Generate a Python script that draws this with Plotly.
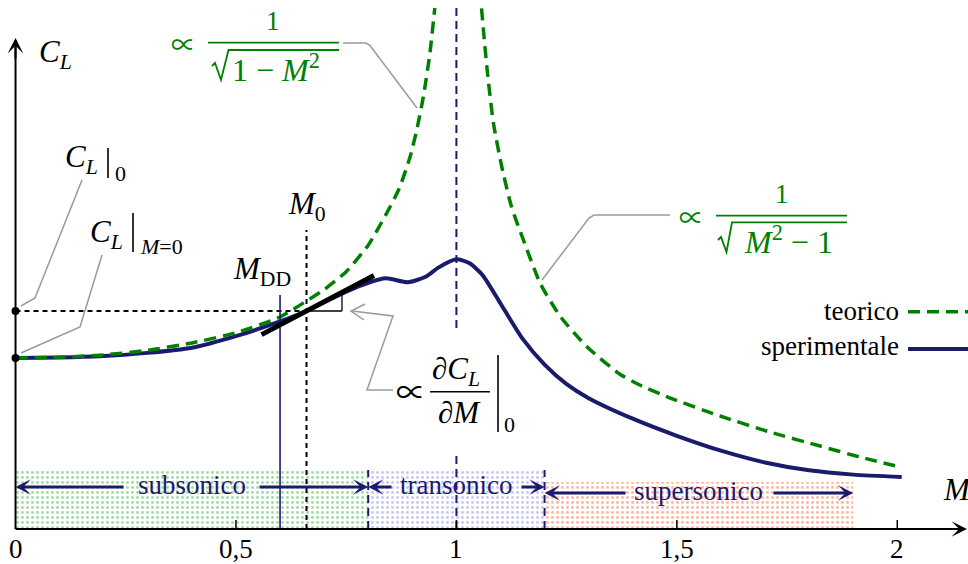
import plotly.graph_objects as go

# ---------------------------------------------------------------------------
# Lift coefficient against free-stream Mach number (C_L scaled so C_L(M=0)=1)
# ---------------------------------------------------------------------------
mach_exp = [0, 0.1, 0.2, 0.3, 0.4, 0.5, 0.6, 0.66, 0.7, 0.75, 0.8, 0.84, 0.89,
            0.93, 0.96, 1.0, 1.03, 1.06, 1.1, 1.15, 1.2, 1.25, 1.3, 1.4, 1.5,
            1.6, 1.7, 1.8, 1.9, 2.01]
cl_exp = [1.000, 1.003, 1.012, 1.030, 1.060, 1.128, 1.214, 1.275, 1.326, 1.388,
          1.440, 1.466, 1.443, 1.475, 1.530, 1.577, 1.554, 1.483, 1.319, 1.113,
          0.961, 0.847, 0.765, 0.645, 0.545, 0.458, 0.389, 0.343, 0.318, 0.304]

mach_theo_sub = [0, 0.1, 0.2, 0.3, 0.4, 0.5, 0.6, 0.66, 0.7, 0.75, 0.8, 0.84,
                 0.87, 0.895, 0.91, 0.925, 0.94, 0.951]
cl_theo_sub = [1.000, 1.004, 1.018, 1.045, 1.088, 1.148, 1.240, 1.333, 1.400,
               1.505, 1.660, 1.838, 1.990, 2.177, 2.333, 2.527, 2.784, 3.047]

mach_theo_sup = [1.057, 1.069, 1.084, 1.103, 1.125, 1.152, 1.190, 1.236, 1.296,
                 1.371, 1.416, 1.485, 1.598, 1.711, 1.825, 1.915, 2.01]
cl_theo_sup = [3.045, 2.704, 2.374, 2.118, 1.884, 1.690, 1.437, 1.242, 1.066,
               0.905, 0.842, 0.766, 0.661, 0.567, 0.485, 0.421, 0.360]

M_DD = 0.6            # drag-divergence Mach number
M_0 = 0.66            # reference Mach number
M_SONIC = 1.0
CL_AT_ZERO = 1.0      # C_L at M = 0
CL_AT_M0 = 1.275      # C_L at M_0
DCL_DM_AT_M0 = 1.355  # slope of C_L at M_0
tangent_mach = [0.558, 0.813]

regime_bounds = [0, 0.8, 1.2, 1.9]
regime_names = ["subsonico", "transonico", "supersonico"]
regime_band_top = [0.345, 0.345, 0.275]

tick_vals = [0, 0.5, 1, 1.5, 2]
tick_text = ["0", "0,5", "1", "1,5", "2"]

# ---------------------------------------------------------------------------
W, H = 968, 564
X_RANGE = [-0.0352, 2.1604]
Y_RANGE = [-0.2047, 3.0936]

NAVY = "#1b1b6e"
GREEN = "#008000"
GREY = "#9a9a9a"
FONT = "Liberation Serif"
SYMBOL_FONT = "Noto Sans CJK JP"
band_colors = ["#45b845", "#9090ee", "#ff7040"]


def xd(p):
    """pixel column -> Mach"""
    return X_RANGE[0] + p / W * (X_RANGE[1] - X_RANGE[0])


def yd(p):
    """pixel row -> C_L"""
    return Y_RANGE[1] - p / H * (Y_RANGE[1] - Y_RANGE[0])


shapes = []
annotations = []


def seg(x0, y0, x1, y1, color="black", width=1.5, dash=None, ref="paper",
        layer="above"):
    if ref == "paper":
        x0, x1, y0, y1 = x0 / W, x1 / W, 1 - y0 / H, 1 - y1 / H
        xr, yr = "paper", "paper"
    else:
        xr, yr = "x", "y"
    line = dict(color=color, width=width)
    if dash:
        line["dash"] = dash
    shapes.append(dict(type="line", x0=x0, y0=y0, x1=x1, y1=y1, xref=xr,
                       yref=yr, line=line, layer=layer))


def poly(points, color=GREY, width=1.5):
    d = "M " + " L ".join(f"{x / W:.5f},{1 - y / H:.5f}" for x, y in points)
    shapes.append(dict(type="path", path=d, xref="paper", yref="paper",
                       line=dict(color=color, width=width), layer="above"))


def label(s, x, y, size, color="black", xanchor="center", xref="paper",
          family=FONT, **kw):
    annotations.append(dict(
        text=s, x=x / W if xref == "paper" else x, y=1 - y / H,
        xref=xref, yref="paper", xanchor=xanchor, yanchor="middle",
        showarrow=False, font=dict(family=family, size=size, color=color),
        borderpad=0, **kw))


def arrow(x_head, y_head, x_tail, y_tail, color, width, size, head=3):
    annotations.append(dict(
        text="", x=x_head, y=y_head, ax=x_tail, ay=y_tail, xref="x", yref="y",
        axref="x", ayref="y", showarrow=True, arrowhead=head, arrowsize=size,
        arrowwidth=width, arrowcolor=color, standoff=0))


fig = go.Figure()

# dotted regime bands
fig.add_trace(go.Bar(
    x=[(a + b) / 2 for a, b in zip(regime_bounds[:-1], regime_bounds[1:])],
    y=regime_band_top,
    width=[b - a for a, b in zip(regime_bounds[:-1], regime_bounds[1:])],
    base=0,
    marker=dict(color="rgba(0,0,0,0)", line_width=0,
                pattern=dict(shape=".", fgcolor=band_colors, size=5,
                             solidity=0.28)),
    hoverinfo="skip", showlegend=False))

# experimental curve
fig.add_trace(go.Scatter(
    x=mach_exp, y=cl_exp, mode="lines",
    line=dict(color=NAVY, width=4, shape="spline", smoothing=0.6),
    hoverinfo="skip", showlegend=False))

# theoretical curves (Prandtl-Glauert / Ackeret)
for mx, cy in [(mach_theo_sub, cl_theo_sub), (mach_theo_sup, cl_theo_sup)]:
    fig.add_trace(go.Scatter(
        x=mx, y=cy, mode="lines",
        line=dict(color=GREEN, width=3.5, dash="12px,7px", shape="spline",
                  smoothing=0.6),
        hoverinfo="skip", showlegend=False))

# markers on the C_L axis
fig.add_trace(go.Scatter(
    x=[0, 0], y=[CL_AT_ZERO, CL_AT_M0], mode="markers",
    marker=dict(color="black", size=8), hoverinfo="skip", showlegend=False))

# ---------------------------------------------------------------------------
# reference lines
seg(0, CL_AT_M0, M_0, CL_AT_M0, dash="5px,4px", width=2, ref="data")
seg(M_0, 0, M_0, yd(230), dash="5px,4px", width=2, ref="data")
seg(M_DD, 0, M_DD, yd(295), color=NAVY, width=1.6, ref="data")
seg(M_SONIC, yd(8), M_SONIC, yd(328), color=NAVY, width=2, dash="8px,5px",
    ref="data")
seg(M_SONIC, 0, M_SONIC, yd(453), color=NAVY, width=2, dash="8px,5px",
    ref="data")
for b in regime_bounds[1:3]:
    seg(b, 0, b, regime_band_top[0], color=NAVY, width=2, dash="8px,5px",
        ref="data")

# slope marker and tangent at M_0
corner_m = xd(342)
seg(M_0, CL_AT_M0, corner_m, CL_AT_M0, width=1.3, ref="data")
seg(corner_m, CL_AT_M0, corner_m,
    CL_AT_M0 + DCL_DM_AT_M0 * (corner_m - M_0), width=1.3, ref="data")
seg(tangent_mach[0], CL_AT_M0 + DCL_DM_AT_M0 * (tangent_mach[0] - M_0),
    tangent_mach[1], CL_AT_M0 + DCL_DM_AT_M0 * (tangent_mach[1] - M_0),
    width=5, ref="data")

# axes
seg(0, 0, 0, yd(40), width=2, ref="data")
arrow(0, yd(38), 0, yd(60), "black", 2, 1.3)
seg(0, 0, xd(950), 0, width=2, ref="data")
arrow(xd(967), 0, xd(940), 0, "black", 2, 1.3)
for v, t in zip(tick_vals, tick_text):
    if v > 0:
        seg(v, 0, v, yd(520), width=1.5, ref="data")
    label(t, v, 549, 27, xref="x")
label("<i>M</i>", 942, 489, 31, xanchor="left")
label("<i>C</i><sub><i>L</i></sub>", 38, 54, 31, xanchor="left")

# regime arrows and names
arrow_rows = [487, 487, 493]
label_tails = [(125, 258), (393, 520), (627, 772)]
for i, name in enumerate(regime_names):
    a, b = regime_bounds[i], regime_bounds[i + 1]
    yy = yd(arrow_rows[i])
    arrow(a, yy, xd(label_tails[i][0]), yy, NAVY, 3, 0.85)
    arrow(b, yy, xd(label_tails[i][1]), yy, NAVY, 3, 0.85)
    label(name, (a + b) / 2, arrow_rows[i] - 2, 27, color=NAVY, xref="x")

# C_L|0 and C_L|M=0 labels with leaders
label("<i>C</i><sub><i>L</i></sub>", 64, 159, 31, xanchor="left")
seg(108, 148, 108, 178, width=1.6)
label("0", 114, 173, 22, xanchor="left")
poly([(82, 180), (35, 298), (21, 306)])

label("<i>C</i><sub><i>L</i></sub>", 89, 234, 31, xanchor="left")
seg(133, 213, 133, 252, width=1.6)
label("<i>M</i>=0", 139, 246, 22, xanchor="left")
poly([(102, 255), (80, 327), (21, 353)])

label("<i>M</i><sub>0</sub>", 287, 206, 31, xanchor="left")
label("<i>M</i><sub>DD</sub>", 232, 271, 31, xanchor="left")

# derivative label
label("∝", 411, 390, 30, family=SYMBOL_FONT)
label("∂<i>C</i><sub><i>L</i></sub>", 431, 371, 31, xanchor="left")
seg(430, 391.7, 490, 391.7, width=1.6)
label("∂<i>M</i>", 437, 412, 31, xanchor="left")
seg(498, 355, 498, 432, width=1.6)
label("0", 503, 424, 22, xanchor="left")
poly([(393, 390), (367, 390), (393, 316), (352, 311)])
poly([(365, 304), (351, 311), (364, 320)])

# subsonic theory label
label("∝", 183, 43, 25, color=GREEN, family=SYMBOL_FONT)
label("1", 273, 21, 27, color=GREEN)
seg(208, 42.7, 339, 42.7, color=GREEN, width=1.8)
poly([(212, 66), (215, 63), (221, 80), (228.5, 50), (339, 50)], color=GREEN,
     width=1.8)
label("1 − <i>M</i><sup>2</sup>", 231, 68, 32, color=GREEN, xanchor="left")
poly([(343, 43), (366, 43), (370, 45.5), (417, 108)])

# supersonic theory label
label("∝", 691, 216, 25, color=GREEN, family=SYMBOL_FONT)
label("1", 782, 194, 27, color=GREEN)
seg(716, 215.7, 847, 215.7, color=GREEN, width=1.8)
poly([(718, 240), (721, 237), (726.5, 252), (732, 222.3), (847, 222.3)],
     color=GREEN, width=1.8)
label("<i>M</i><sup>2</sup> − 1", 743, 240, 32, color=GREEN, xanchor="left")
poly([(670, 215), (594, 215), (589, 218), (542, 280)])

# legend
label("teorico", 900, 311, 27, xanchor="right")
seg(908, 311.7, 968, 311.7, color=GREEN, width=3.5, dash="12px,7px")
label("sperimentale", 900, 346, 27, xanchor="right")
seg(908, 349, 968, 349, color=NAVY, width=4)

fig.update_layout(
    width=W, height=H, autosize=False,
    margin=dict(l=0, r=0, t=0, b=0, pad=0),
    paper_bgcolor="white", plot_bgcolor="white",
    font=dict(family=FONT),
    xaxis=dict(range=X_RANGE, visible=False, fixedrange=True),
    yaxis=dict(range=Y_RANGE, visible=False, fixedrange=True),
    shapes=shapes, annotations=annotations, showlegend=False,
    barmode="overlay", bargap=0,
)

fig.write_html("out.html", config=dict(displayModeBar=False))
